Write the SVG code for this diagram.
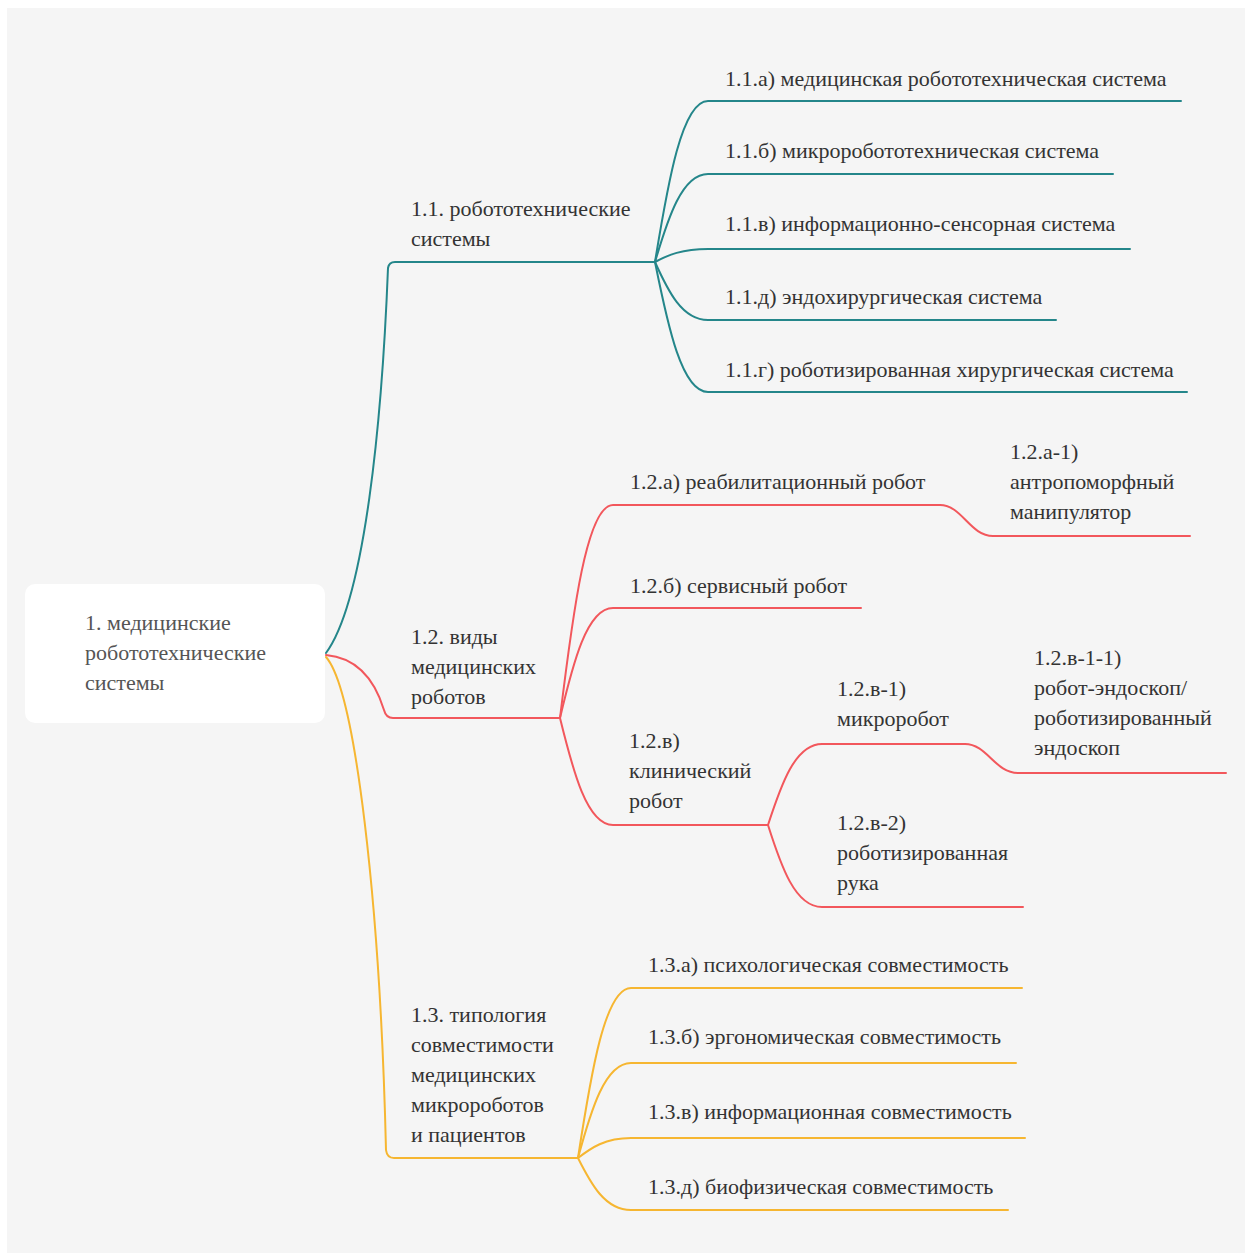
<svg xmlns="http://www.w3.org/2000/svg" width="1251" height="1254" viewBox="0 0 1251 1254">
<style>
.t{font-family:"Liberation Serif","Times New Roman",serif;font-size:22px;fill:#333333}
.r{fill:#555555}
.c{fill:none;stroke-width:2;stroke-linecap:round;stroke-linejoin:round}
.teal{stroke:#24868a}
.red{stroke:#f2575c}
.yel{stroke:#f6b631}
</style>
<rect x="0" y="0" width="1251" height="1254" fill="#ffffff"/>
<rect x="7" y="8" width="1238" height="1245" fill="#f5f5f5"/>
<g id="connectors">
<path class="c teal" d="M326 653 C 365 600, 382 420, 388 268 Q 389 262 395 262 H655"/>
<path class="c teal" d="M655 262 C 668 182, 682 101, 708 101 H1181"/>
<path class="c teal" d="M655 262 C 668 218, 682 174, 708 174 H1113"/>
<path class="c teal" d="M655 262 C 668 255, 682 249, 708 249 H1130"/>
<path class="c teal" d="M655 262 C 668 291, 682 320, 708 320 H1056"/>
<path class="c teal" d="M655 262 C 668 327, 682 392, 708 392 H1187"/>
<path class="c red" d="M326 655 C 360 658, 376 684, 384 710 Q 386 718 393 718 H560"/>
<path class="c red" d="M560 718 C 573 611, 587 505, 613 505 H940 C 962 505, 970 536, 993 536 H1190"/>
<path class="c red" d="M560 718 C 573 663, 587 608, 613 608 H861"/>
<path class="c red" d="M560 718 C 573 771, 587 825, 613 825 H768"/>
<path class="c red" d="M768 825 C 781 785, 795 744, 822 744 H965 C 987 744, 995 773, 1018 773 H1226"/>
<path class="c red" d="M768 825 C 781 866, 795 907, 822 907 H1023"/>
<path class="c yel" d="M326 657 C 355 690, 380 900, 386 1150 Q 387 1158 394 1158 H578"/>
<path class="c yel" d="M578 1158 C 591 1073, 605 988, 631 988 H1022"/>
<path class="c yel" d="M578 1158 C 591 1110, 605 1063, 631 1063 H1016"/>
<path class="c yel" d="M578 1158 C 591 1148, 605 1138, 631 1138 H1025"/>
<path class="c yel" d="M578 1158 C 591 1184, 605 1210, 631 1210 H1008"/>
</g>
<g id="n1">
<rect x="25" y="584" width="300" height="139" rx="10" fill="#ffffff"/>
<text class="t r" x="85" y="630">1. медицинские</text>
<text class="t r" x="85" y="660">робототехнические</text>
<text class="t r" x="85" y="690">системы</text>
</g>
<g id="n1-1">
<text class="t" x="411" y="216">1.1. робототехнические</text>
<text class="t" x="411" y="246">системы</text>
</g>
<g id="n1-1-a"><text class="t" x="725" y="86">1.1.а) медицинская робототехническая система</text></g>
<g id="n1-1-b"><text class="t" x="725" y="158">1.1.б) микроробототехническая система</text></g>
<g id="n1-1-v"><text class="t" x="725" y="231">1.1.в) информационно-сенсорная система</text></g>
<g id="n1-1-d"><text class="t" x="725" y="304">1.1.д) эндохирургическая система</text></g>
<g id="n1-1-g"><text class="t" x="725" y="377">1.1.г) роботизированная хирургическая система</text></g>
<g id="n1-2">
<text class="t" x="411" y="644">1.2. виды</text>
<text class="t" x="411" y="674">медицинских</text>
<text class="t" x="411" y="704">роботов</text>
</g>
<g id="n1-2-a"><text class="t" x="630" y="489">1.2.а) реабилитационный робот</text></g>
<g id="n1-2-a-1">
<text class="t" x="1010" y="459">1.2.а-1)</text>
<text class="t" x="1010" y="489">антропоморфный</text>
<text class="t" x="1010" y="519">манипулятор</text>
</g>
<g id="n1-2-b"><text class="t" x="630" y="593">1.2.б) сервисный робот</text></g>
<g id="n1-2-v">
<text class="t" x="629" y="748">1.2.в)</text>
<text class="t" x="629" y="778">клинический</text>
<text class="t" x="629" y="808">робот</text>
</g>
<g id="n1-2-v-1">
<text class="t" x="837" y="696">1.2.в-1)</text>
<text class="t" x="837" y="726">микроробот</text>
</g>
<g id="n1-2-v-1-1">
<text class="t" x="1034" y="665">1.2.в-1-1)</text>
<text class="t" x="1034" y="695">робот-эндоскоп/</text>
<text class="t" x="1034" y="725">роботизированный</text>
<text class="t" x="1034" y="755">эндоскоп</text>
</g>
<g id="n1-2-v-2">
<text class="t" x="837" y="830">1.2.в-2)</text>
<text class="t" x="837" y="860">роботизированная</text>
<text class="t" x="837" y="890">рука</text>
</g>
<g id="n1-3">
<text class="t" x="411" y="1022">1.3. типология</text>
<text class="t" x="411" y="1052">совместимости</text>
<text class="t" x="411" y="1082">медицинских</text>
<text class="t" x="411" y="1112">микророботов</text>
<text class="t" x="411" y="1142">и пациентов</text>
</g>
<g id="n1-3-a"><text class="t" x="648" y="972">1.3.а) психологическая совместимость</text></g>
<g id="n1-3-b"><text class="t" x="648" y="1044">1.3.б) эргономическая совместимость</text></g>
<g id="n1-3-v"><text class="t" x="648" y="1119">1.3.в) информационная совместимость</text></g>
<g id="n1-3-d"><text class="t" x="648" y="1194">1.3.д) биофизическая совместимость</text></g>
</svg>
